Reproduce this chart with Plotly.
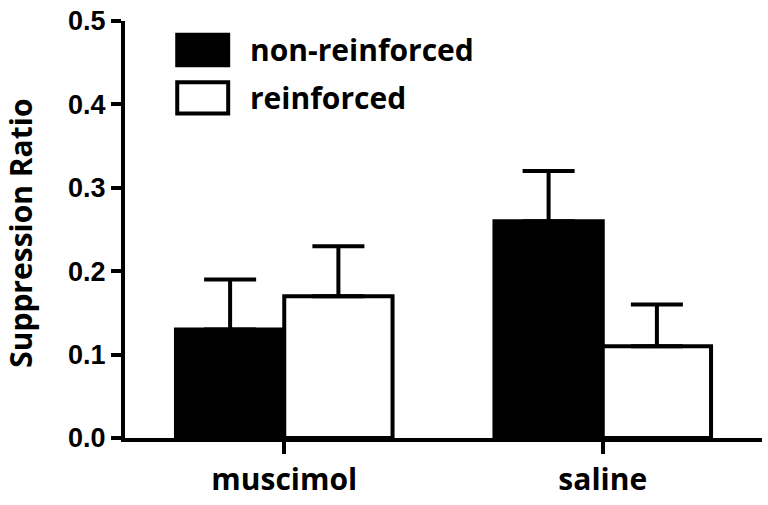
import plotly.graph_objects as go

categories = ["muscimol", "saline"]
non_reinforced = [0.13, 0.26]
non_reinforced_err = [0.06, 0.06]
reinforced = [0.17, 0.11]
reinforced_err = [0.06, 0.05]
y_ticks = [0.0, 0.1, 0.2, 0.3, 0.4, 0.5]
y_tick_labels = ["0.0", "0.1", "0.2", "0.3", "0.4", "0.5"]

LW = 4

fig = go.Figure()
fig.add_trace(go.Bar(
    x=categories, y=non_reinforced, name="non-reinforced",
    marker=dict(color="black", line=dict(color="black", width=LW)),
    error_y=dict(type="data", array=non_reinforced_err,
                 arrayminus=[0] * len(categories), symmetric=False,
                 thickness=LW, width=26, color="black"),
))
fig.add_trace(go.Bar(
    x=categories, y=reinforced, name="reinforced",
    marker=dict(color="white", line=dict(color="black", width=LW)),
    error_y=dict(type="data", array=reinforced_err,
                 arrayminus=[0] * len(categories), symmetric=False,
                 thickness=LW, width=26, color="black"),
))

fig.update_layout(
    width=768, height=505,
    margin=dict(l=125, r=6, t=18, b=64),
    paper_bgcolor="white", plot_bgcolor="white",
    barmode="group", bargap=0.32, bargroupgap=0,
    showlegend=False,
    font=dict(family="Open Sans", size=22, color="black"),
)
fig.update_xaxes(
    range=[-0.5, 1.5], showline=True, linecolor="black", linewidth=LW,
    ticks="outside", ticklen=12, tickwidth=LW, tickcolor="black",
    showgrid=False, zeroline=False,
    tickfont=dict(family="Open Sans", size=30, color="black", weight="bold"),
)
fig.update_yaxes(
    range=[0, 0.5], tickvals=y_ticks, ticktext=y_tick_labels,
    showline=True, linecolor="black", linewidth=LW,
    ticks="outside", ticklen=10, tickwidth=LW, tickcolor="black",
    showgrid=False, zeroline=False, ticklabeloverflow="allow",
    tickfont=dict(family="Liberation Sans", size=27, color="black", weight="bold"),
)

# y-axis title
fig.add_annotation(
    text="<b>Suppression Ratio</b>", textangle=-90,
    xref="paper", yref="paper", x=-0.163, y=0.49,
    xanchor="center", yanchor="middle", showarrow=False,
    font=dict(family="Open Sans", size=30, color="black"),
)

# legend drawn as shapes + text
legend_items = [("non-reinforced", "black", 0.967, 0.894),
                ("reinforced", "white", 0.853, 0.778)]
for name, fill, y1, y0 in legend_items:
    fig.add_shape(type="rect", xref="paper", yref="paper",
                  x0=0.082, x1=0.162, y0=y0, y1=y1,
                  fillcolor=fill, line=dict(color="black", width=LW))
    fig.add_annotation(text=f"<b>{name}</b>", xref="paper", yref="paper",
                       x=0.193, y=(y0 + y1) / 2, xanchor="left", yanchor="middle",
                       showarrow=False,
                       font=dict(family="Open Sans", size=30, color="black"))

fig.write_html("out.html",
               config={"displayModeBar": False},
               post_script="document.body.style.margin='0';")
